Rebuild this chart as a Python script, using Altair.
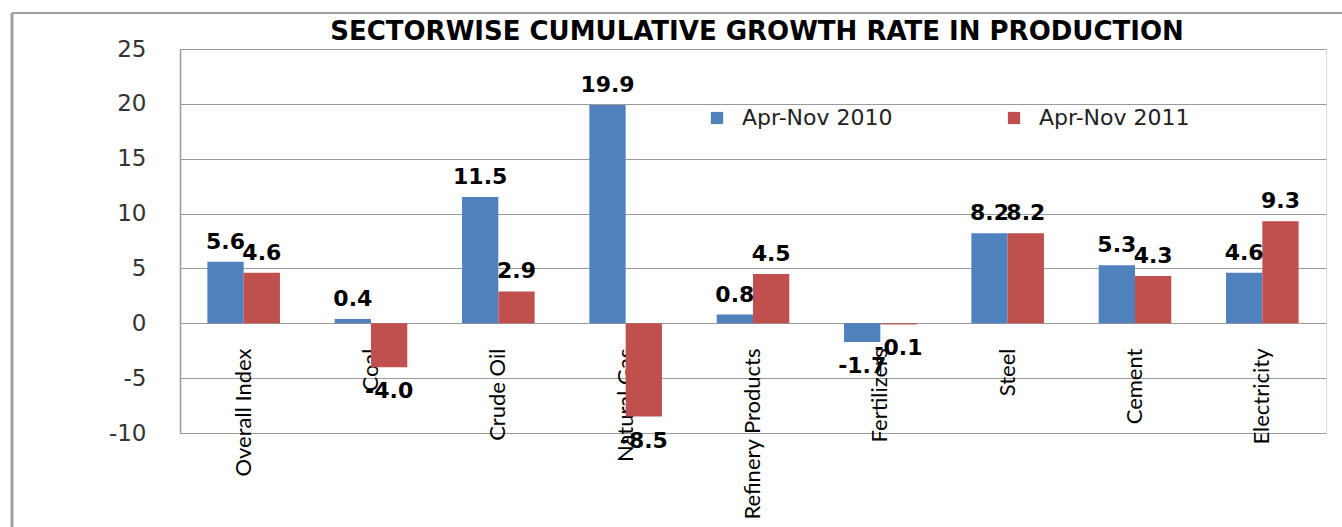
import altair as alt
import pandas as pd

categories = ["Overall Index", "Coal", "Crude Oil", "Natural Gas", "Refinery Products",
              "Fertilizers", "Steel", "Cement", "Electricity"]
series_names = ["Apr-Nov 2010", "Apr-Nov 2011"]
values_2010 = [5.6, 0.4, 11.5, 19.9, 0.8, -1.7, 8.2, 5.3, 4.6]
values_2011 = [4.6, -4.0, 2.9, -8.5, 4.5, -0.1, 8.2, 4.3, 9.3]
y_ticks = [-10, -5, 0, 5, 10, 15, 20, 25]
colors = ["#4F81BD", "#C0504D"]
title_text = "SECTORWISE CUMULATIVE GROWTH RATE IN PRODUCTION"

rows = []
for c, v in zip(categories, values_2010):
    rows.append({"sector": c, "series": series_names[0], "value": v})
for c, v in zip(categories, values_2011):
    rows.append({"sector": c, "series": series_names[1], "value": v})
df = pd.DataFrame(rows)

W, H = 1146, 384
PL, PT = 180, 49

x_enc = alt.X("sector:N", sort=categories, title=None,
              scale=alt.Scale(paddingInner=0.43, paddingOuter=0.215),
              axis=alt.Axis(orient="bottom", offset=-110, domain=False, ticks=False,
                            labelAngle=-90, labelAlign="right", labelBaseline="middle",
                            labelPadding=25, labelFontSize=22, labelColor="#000000",
                            labelFont="Liberation Sans Narrow, Lato, sans-serif",
                            labelOverlap=False, labelLimit=0, grid=False))
y_enc = alt.Y("value:Q", title=None,
              scale=alt.Scale(domain=[-10, 25], nice=False, zero=True),
              axis=alt.Axis(values=y_ticks, grid=True, gridColor="#9a9a9a", gridWidth=1.2,
                            domainColor="#9a9a9a", domainWidth=1.5, ticks=False,
                            labelPadding=34, labelFontSize=23, labelColor="#333333",
                            labelFont="DejaVu Sans",
                            labelExpr="replace(datum.label, '\u2212', '-')"))
xo = alt.XOffset("series:N", sort=series_names)

base = alt.Chart(df)

bars = base.mark_bar().encode(
    x=x_enc, y=y_enc, xOffset=xo,
    color=alt.Color("series:N", sort=series_names,
                    scale=alt.Scale(domain=series_names, range=colors),
                    legend=alt.Legend(title=None, orient="none", direction="horizontal",
                                      legendX=526, legendY=58,
                                      symbolType="square", symbolSize=150,
                                      symbolStrokeWidth=0,
                                      labelFontSize=22, labelFont="DejaVu Sans",
                                      labelColor="#222222", columnPadding=110,
                                      labelOffset=14, labelLimit=0)),
)

label_style = dict(fontSize=22, fontWeight="bold", font="DejaVu Sans", color="#000000",
                   baseline="middle", align="center")
lab = base.transform_calculate(
    lbl="replace(format(datum.value, '.1f'), '\u2212', '-')")
pos_labels = lab.transform_filter("datum.value >= 0").mark_text(dy=-20, **label_style).encode(
    x=alt.X("sector:N", sort=categories), y="value:Q", xOffset=xo, text="lbl:N")
neg_labels = lab.transform_filter("datum.value < 0").mark_text(dy=24, **label_style).encode(
    x=alt.X("sector:N", sort=categories), y="value:Q", xOffset=xo, text="lbl:N")

one = pd.DataFrame({"t": [title_text]})
title = alt.Chart(one).mark_text(fontSize=26, fontWeight="bold", font="DejaVu Sans",
                                 color="#000000", align="center", baseline="middle").encode(
    x=alt.value(757 - PL), y=alt.value(32 - PT), text="t:N")

frame_left = alt.Chart(one).mark_rule(color="#a0a0a0", strokeWidth=3).encode(
    x=alt.value(12 - PL), y=alt.value(13 - PT), y2=alt.value(527 - PT))
frame_top = alt.Chart(one).mark_rule(color="#a0a0a0", strokeWidth=2).encode(
    x=alt.value(12 - PL), x2=alt.value(1342 - PL), y=alt.value(13 - PT))

chart = alt.layer(bars, pos_labels, neg_labels, title, frame_left, frame_top).properties(
    width=W, height=H,
    autosize=alt.AutoSizeParams(type="none"),
    padding={"left": PL, "top": PT, "right": 1342 - PL - W, "bottom": 527 - PT - H},
).configure_view(stroke=None).configure(background="#ffffff")

chart.save("out.html", embed_options={"renderer": "svg", "actions": False})
